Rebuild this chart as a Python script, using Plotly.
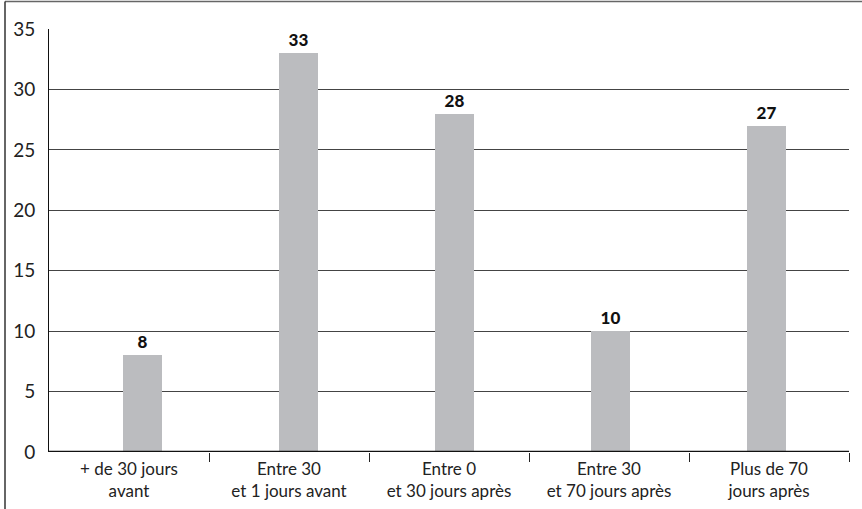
import plotly.graph_objects as go

categories = ["+ de 30 jours<br>avant", "Entre 30<br>et 1 jours avant", "Entre 0<br>et 30 jours après",
              "Entre 30<br>et 70 jours après", "Plus de 70<br>jours après"]
values = [8, 33, 28, 10, 27]
y_ticks = [0, 5, 10, 15, 20, 25, 30, 35]

xpos = list(range(len(categories)))

fig = go.Figure(go.Bar(
    x=xpos, y=values, width=0.25, xaxis="x2",
    marker=dict(color="#bbbcbf", line=dict(width=0)),
    text=[str(v) for v in values], textposition="outside",
    textfont=dict(family="Lato", size=17, color="#111", weight=900),
    cliponaxis=False,
))
fig.add_trace(go.Scatter(x=xpos, y=[0] * len(xpos), mode="markers",
                         marker=dict(opacity=0), hoverinfo="skip"))

L, R, T, B = 49, 13, 29, 57
W, H = 862, 509
pw, ph = W - L - R, H - T - B

fig.update_layout(
    width=W, height=H, margin=dict(l=L, r=R, t=T, b=B, autoexpand=False),
    paper_bgcolor="white", plot_bgcolor="white", showlegend=False,
    bargap=0,
    xaxis=dict(range=[-0.5, 4.5], tickvals=xpos, ticktext=categories, ticks="",
               tickfont=dict(family="Lato", size=17, color="#222"), ticklabelstandoff=5,
               showgrid=False, zeroline=False, showline=False, automargin=False,
               minor=dict(tickvals=[0.5, 1.5, 2.5, 3.5, 4.5], ticks="outside", ticklen=9,
                          tickcolor="#222", tickwidth=1, showgrid=False)),
    xaxis2=dict(range=[-0.599, 4.529], overlaying="x", visible=False),
    yaxis=dict(range=[0, 35], tickvals=y_ticks, ticks="", ticklabelstandoff=9,
               tickfont=dict(family="Lato", size=19, color="#222"), automargin=False,
               showgrid=True, gridcolor="#444", gridwidth=1, zeroline=False,
               showline=True, linecolor="#111", linewidth=1),
    shapes=[
        dict(type="line", xref="paper", yref="y", x0=0, x1=1, y0=0, y1=0,
             line=dict(color="#111", width=2.5)),
        dict(type="line", xref="paper", yref="paper", x0=(5 - L) / pw, x1=(W - L) / pw,
             y0=1 + (T - 1.5) / ph, y1=1 + (T - 1.5) / ph, line=dict(color="#666", width=1.5)),
        dict(type="line", xref="paper", yref="paper", x0=(5 - L) / pw, x1=(5 - L) / pw,
             y0=1 + (T - 1.5) / ph, y1=-(B + 5) / ph, line=dict(color="#333", width=1.5)),
    ],
)

fig.write_html("out.html")
